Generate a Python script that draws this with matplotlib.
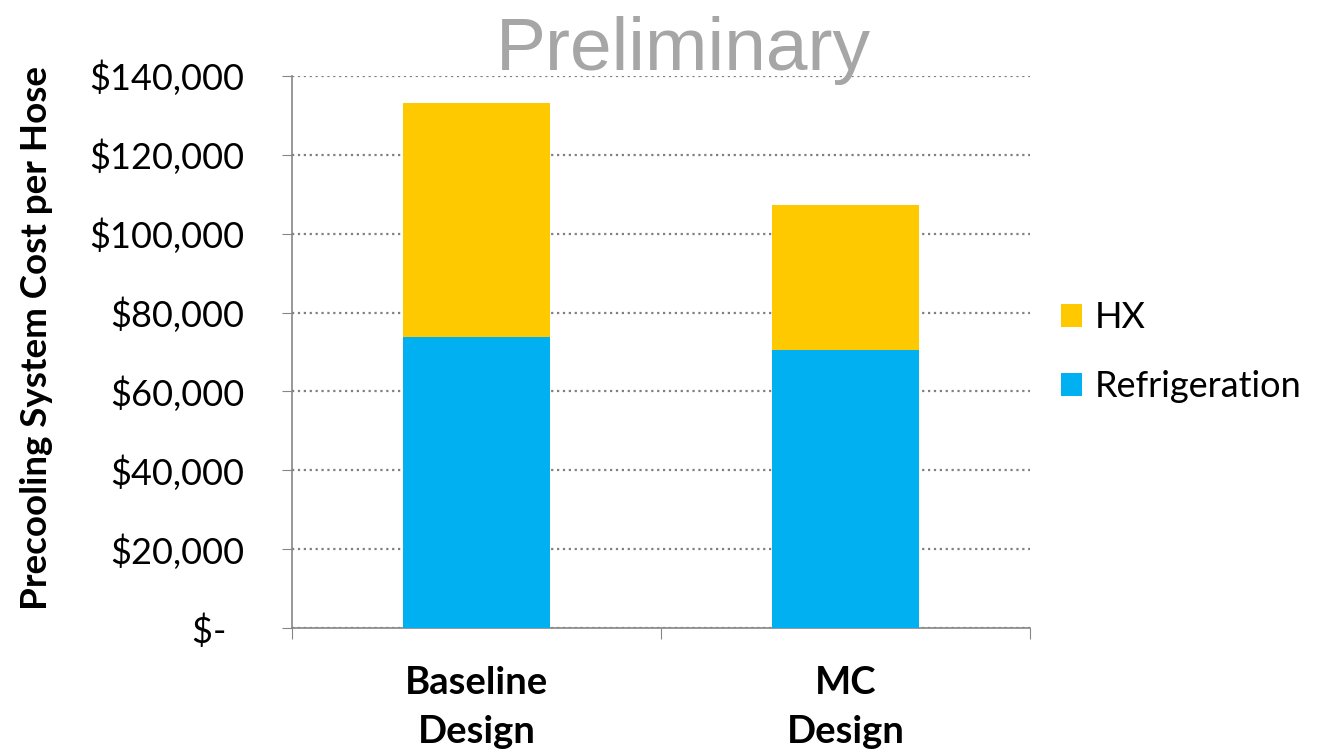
import matplotlib.pyplot as plt

# Cost per hose by design
designs = ['Baseline\nDesign', 'MC\nDesign']
refrigeration = [73800, 70600]
hx = [59400, 36700]
yticks = [0, 20000, 40000, 60000, 80000, 100000, 120000, 140000]
ytick_labels = ['$-  ', '$20,000', '$40,000', '$60,000', '$80,000',
                '$100,000', '$120,000', '$140,000']

plt.rcParams['font.family'] = ['Lato', 'DejaVu Sans']

fig = plt.figure(figsize=(13.18, 7.52), dpi=100)
ax = fig.add_axes([0.2215, 0.1645, 0.56, 0.7348])

x = list(range(len(designs)))
b1 = ax.bar(x, refrigeration, width=0.4, color='#00B0F0', label='Refrigeration', zorder=3)
b2 = ax.bar(x, hx, width=0.4, bottom=refrigeration, color='#FFC900', label='HX', zorder=3)

ax.set_xlim(-0.5, 1.5)
ax.set_ylim(0, 140000)

# category boundaries as major ticks, names as minor ticks
ax.set_xticks([-0.5, 0.5, 1.5])
ax.set_xticklabels([])
ax.set_xticks(x, minor=True)
ax.set_xticklabels(designs, minor=True, fontsize=27.5, fontweight='bold', linespacing=1.55)
ax.tick_params(axis='x', which='major', length=8, color='#868686', direction='out')
ax.tick_params(axis='x', which='minor', length=0, pad=27)

ax.set_yticks(yticks)
ax.set_yticklabels(ytick_labels, fontsize=26)
ax.tick_params(axis='y', length=7, color='#868686', pad=27)

ax.yaxis.grid(True, linestyle=':', color='#808080', linewidth=1.6, zorder=0)
for s in ['top', 'right']:
    ax.spines[s].set_visible(False)
for s in ['left', 'bottom']:
    ax.spines[s].set_color('#868686')
    ax.spines[s].set_linewidth(1.2)

fig.text(37 / 1318, 1 - 338 / 752, 'Precooling System Cost per Hose', rotation=90,
         ha='center', va='center', fontsize=26.5, fontweight='bold')

fig.text(683 / 1318, 1 - 70 / 752, 'Preliminary', ha='center', va='baseline',
         fontsize=54, color='#A6A6A6', family='Liberation Sans')

ax.legend([b2, b1], ['HX', 'Refrigeration'], loc='center left',
          bbox_to_anchor=(1028 / 1318, 1 - 352 / 752), bbox_transform=fig.transFigure,
          frameon=False, fontsize=26, handlelength=0.6, handleheight=0.6,
          labelspacing=1.0, handletextpad=0.35)

fig.savefig('out.png', dpi=100)
